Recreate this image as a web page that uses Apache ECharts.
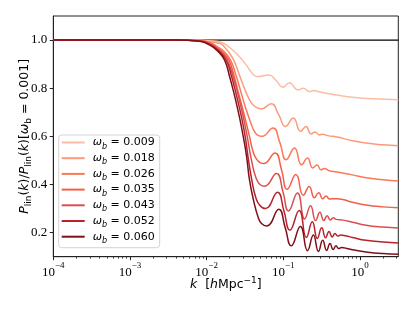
<!DOCTYPE html>
<html><head><meta charset="utf-8">
<script src="https://cdn.jsdelivr.net/npm/echarts@6/dist/echarts.min.js"></script>
<style>html,body{margin:0;padding:0;background:#fff}#c{width:415px;height:311px}</style>
</head><body><div id="c"></div>
<script>
// omega_b values (legend)
const omegaB = ['0.009','0.018','0.026','0.035','0.043','0.052','0.060'];
// x ticks
const majorK = [1e-4, 1e-3, 1e-2, 1e-1, 1];
const minorK = [2e-4,3e-4,4e-4,5e-4,6e-4,7e-4,8e-4,9e-4,2e-3,3e-3,4e-3,5e-3,6e-3,7e-3,8e-3,9e-3,
  0.02,0.03,0.04,0.05,0.06,0.07,0.08,0.09,0.2,0.3,0.4,0.5,0.6,0.7,0.8,0.9,2,3];
const yTicks = [0.2, 0.4, 0.6, 0.8, 1.0];
const refLine = [[1e-4, 1], [3.1623, 1]];

// curves [k, P/P]
const c009 = [[1e-4,1],[1e-3,1],[0.004,1],[0.00807,0.999],[0.0109,0.997],[0.01473,0.993],[0.0187,0.976],[0.0243,0.945],[0.0328,0.897],[0.04,0.859],[0.0465,0.848],[0.0647,0.855],[0.08,0.833],[0.0985,0.804],[0.1205,0.823],[0.1545,0.793],[0.1835,0.80],[0.22,0.786],[0.248,0.79],[0.3,0.784],[0.5,0.772],[0.8,0.762],[1.5,0.756],[3.162,0.752]];
const c018 = [[1e-4,1],[1e-3,1],[0.004,1],[0.00807,0.999],[0.0109,0.993],[0.01387,0.988],[0.01626,0.979],[0.02195,0.924],[0.02825,0.834],[0.0362,0.752],[0.0421,0.725],[0.0515,0.714],[0.0695,0.735],[0.087,0.69],[0.1068,0.641],[0.135,0.676],[0.168,0.621],[0.198,0.641],[0.23,0.61],[0.26,0.618],[0.295,0.606],[0.325,0.609],[0.38,0.603],[0.5,0.597],[0.8,0.582],[1.2,0.572],[2,0.565],[3.162,0.561]];
const c026 = [[1e-4,1],[1e-3,1],[0.004,1],[0.00807,0.998],[0.0109,0.99],[0.01387,0.972],[0.0171,0.95],[0.0205,0.917],[0.0238,0.86],[0.02765,0.79],[0.0321,0.72],[0.0373,0.66],[0.0421,0.62],[0.0475,0.603],[0.0527,0.6],[0.0734,0.635],[0.09,0.575],[0.109,0.503],[0.14,0.552],[0.173,0.482],[0.207,0.51],[0.242,0.469],[0.276,0.481],[0.31,0.461],[0.345,0.466],[0.4,0.457],[0.5,0.452],[0.8,0.44],[1.2,0.428],[2,0.42],[3.162,0.415]];
const c035 = [[1e-4,1],[1e-3,1],[0.004,1],[0.00807,0.997],[0.0109,0.987],[0.01387,0.967],[0.0171,0.942],[0.0196,0.917],[0.0224,0.86],[0.026,0.78],[0.0303,0.7],[0.0362,0.6],[0.0409,0.53],[0.0461,0.5],[0.0504,0.49],[0.0552,0.487],[0.078,0.531],[0.095,0.46],[0.112,0.38],[0.146,0.441],[0.182,0.355],[0.218,0.392],[0.254,0.345],[0.29,0.366],[0.326,0.341],[0.362,0.352],[0.4,0.34],[0.5,0.341],[0.8,0.326],[1.2,0.315],[2,0.307],[3.162,0.303]];
const c043 = [[1e-4,1],[1e-3,1],[0.004,1],[0.00807,0.997],[0.0109,0.985],[0.01387,0.963],[0.0171,0.935],[0.0187,0.917],[0.0221,0.85],[0.0256,0.775],[0.0296,0.69],[0.0338,0.6],[0.0385,0.5],[0.0443,0.425],[0.0504,0.398],[0.0569,0.393],[0.0815,0.446],[0.099,0.37],[0.117,0.29],[0.153,0.365],[0.19,0.257],[0.227,0.312],[0.264,0.25],[0.30,0.285],[0.337,0.25],[0.374,0.27],[0.41,0.252],[0.448,0.262],[0.49,0.255],[0.6,0.252],[0.8,0.243],[1.2,0.231],[2,0.223],[3.162,0.219]];
const c052 = [[1e-4,1],[1e-3,1],[0.004,1],[0.00807,0.996],[0.0109,0.982],[0.01387,0.96],[0.0179,0.917],[0.0211,0.85],[0.0245,0.77],[0.0285,0.68],[0.0318,0.6],[0.0352,0.5],[0.0393,0.41],[0.0434,0.35],[0.0489,0.315],[0.0586,0.300],[0.084,0.368],[0.102,0.29],[0.122,0.21],[0.161,0.292],[0.200,0.18],[0.239,0.245],[0.278,0.176],[0.317,0.22],[0.356,0.179],[0.395,0.205],[0.434,0.182],[0.473,0.196],[0.512,0.186],[0.56,0.19],[0.65,0.187],[0.8,0.18],[1.2,0.168],[2,0.161],[3.162,0.157]];
const c060 = [[1e-4,1],[1e-3,1],[0.004,1],[0.00807,0.995],[0.0109,0.98],[0.01387,0.955],[0.0171,0.917],[0.01988,0.85],[0.0231,0.77],[0.0268,0.68],[0.0296,0.61],[0.0331,0.52],[0.0362,0.42],[0.0412,0.33],[0.0469,0.265],[0.052,0.238],[0.061,0.228],[0.0874,0.297],[0.106,0.22],[0.127,0.145],[0.167,0.225],[0.207,0.125],[0.247,0.19],[0.287,0.122],[0.327,0.168],[0.367,0.126],[0.407,0.155],[0.447,0.13],[0.487,0.146],[0.527,0.134],[0.575,0.138],[0.7,0.133],[0.8,0.129],[1.2,0.12],[2,0.113],[3.162,0.110]];

const curves = [c009, c018, c026, c035, c043, c052, c060];
const colors = ['#fcbda4','#fc9a7b','#fb7858','#f45f4a','#d9504f','#b8222c','#7f0f18'];

const names = omegaB.map(v => 'ω_b = ' + v);
const series = [{
  type: 'line', name: 'ref', data: refLine, symbol: 'none', silent: true,
  lineStyle: { color: '#000', width: 1.3 }, z: 1
}];
curves.forEach((d, i) => series.push({
  type: 'line', name: names[i], data: d, symbol: 'none', smooth: 0.5,
  lineStyle: { color: colors[i], width: 1.5 }, itemStyle: { color: colors[i] }, z: 2 + i
}));

const sans = 'DejaVu Sans';
const serif = 'Liberation Serif';
function expLabel(v) {
  const n = Math.round(Math.log10(v));
  return '{b|10}{e|' + String(n).replace('-', '−') + '}';
}

const chart = echarts.init(document.getElementById('c'));
chart.setOption({
  animation: false,
  grid: { left: 53.3, top: 16, right: 16.7, bottom: 54.3, show: true, borderColor: '#222', borderWidth: 1, containLabel: false, outerBoundsMode: 'none' },
  legend: {
    data: names, orient: 'vertical', left: 58.7, top: 135,
    padding: [2, 5, 3, 3], itemGap: 2.2, itemWidth: 23, itemHeight: 2, icon: 'rect',
    borderColor: '#d3d3d3', borderWidth: 1, borderRadius: 3, backgroundColor: 'rgba(255,255,255,0.8)',
    formatter: name => {
      const v = name.split('= ')[1];
      return '{w|ω}{s|b}{t| = ' + v + '}';
    },
    textStyle: {
      padding: [0, 0, 0, 3],
      rich: {
        w: { fontFamily: sans, fontSize: 11, fontStyle: 'italic', lineHeight: 16, color: '#000' },
        s: { fontFamily: sans, fontSize: 8, fontStyle: 'italic', lineHeight: 10, verticalAlign: 'bottom', color: '#000' },
        t: { fontFamily: sans, fontSize: 11, lineHeight: 16, color: '#000' }
      }
    }
  },
  xAxis: [{
    type: 'log', logBase: 10, min: 1e-4, max: 3.1623,
    name: '{i|k}{n|  [}{i|h}{n|Mpc}{p|−1}{n|]}', nameLocation: 'middle', nameGap: 19, nameMoveOverlap: false,
    nameTextStyle: { rich: {
      i: { fontFamily: sans, fontSize: 12.5, fontStyle: 'italic', lineHeight: 18, color: '#000' },
      n: { fontFamily: sans, fontSize: 12.5, lineHeight: 18, color: '#000' },
      p: { fontFamily: sans, fontSize: 9, lineHeight: 10, verticalAlign: 'top', color: '#000' }
    } },
    axisLine: { show: true, onZero: false, lineStyle: { color: '#222', width: 1 } },
    axisTick: { show: true, inside: false, length: 3.5, lineStyle: { color: '#222', width: 1 }, customValues: majorK },
    minorTick: { show: false },
    splitLine: { show: false },
    axisLabel: { customValues: majorK, formatter: expLabel, margin: 4, rich: {
      b: { fontFamily: serif, fontSize: 13, lineHeight: 18, verticalAlign: 'bottom', color: '#000' },
      e: { fontFamily: serif, fontSize: 9, lineHeight: 10, verticalAlign: 'top', color: '#000' }
    } }
  }, {
    type: 'log', logBase: 10, min: 1e-4, max: 3.1623, position: 'bottom',
    axisLine: { show: false },
    axisTick: { show: true, inside: false, length: 2, lineStyle: { color: '#222', width: 0.8 }, customValues: minorK },
    axisLabel: { show: false }, splitLine: { show: false }, minorTick: { show: false }
  }],
  yAxis: {
    type: 'value', min: 0.1, max: 1.1, interval: 0.1,
    name: '{i|P}{s|lin}{n|(}{i|k}{n|)/}{i|P}{s|lin}{n|(}{i|k}{n|)[}{i|ω}{s|b}{n| = 0.001]}',
    nameLocation: 'middle', nameGap: 20, nameRotate: 90, nameMoveOverlap: false,
    nameTextStyle: { rich: {
      i: { fontFamily: sans, fontSize: 12.5, fontStyle: 'italic', lineHeight: 18, color: '#000' },
      n: { fontFamily: sans, fontSize: 12.5, lineHeight: 18, color: '#000' },
      s: { fontFamily: sans, fontSize: 9, lineHeight: 10, verticalAlign: 'bottom', color: '#000' }
    } },
    axisLine: { show: true, lineStyle: { color: '#222', width: 1 } },
    axisTick: { show: true, inside: false, length: 3.5, lineStyle: { color: '#222', width: 1 }, customValues: yTicks },
    splitLine: { show: false },
    axisLabel: { customValues: yTicks, margin: 6, fontFamily: serif, fontSize: 13, color: '#000', formatter: v => v.toFixed(1) }
  },
  series: series
});
</script></body></html>
